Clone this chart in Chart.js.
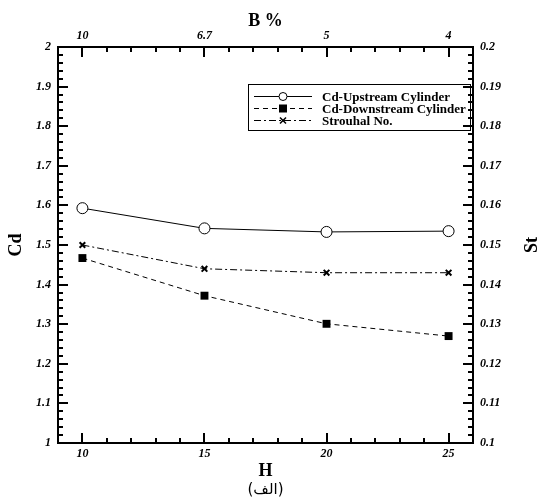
<!DOCTYPE html>
<html>
<head>
<meta charset="utf-8">
<script src="https://cdn.jsdelivr.net/npm/chart.js@4.4.1/dist/chart.umd.min.js"></script>
<style>
html,body{margin:0;padding:0;background:#fff}
</style>
</head>
<body>
<canvas id="myChart" width="545" height="503"></canvas>
<script>
// 데이터
const hValues = [10, 15, 20, 25];
const bPercentLabels = ['10', '6.7', '5', '4'];
const cdUpstream = [1.593, 1.542, 1.533, 1.535];
const cdDownstream = [1.467, 1.372, 1.301, 1.270];
const strouhal = [0.150, 0.144, 0.143, 0.143];
const seriesNames = ['Cd-Upstream Cylinder', 'Cd-Downstream Cylinder', 'Strouhal No.'];

const serif = '"Liberation Serif", "DejaVu Serif", serif';
const tickFont = { family: serif, size: 12, weight: 'bold', style: 'italic' };

function pts(ys) { return hValues.map((h, i) => ({ x: h, y: ys[i] })); }

const majorOnly = s => { s.ticks = hValues.map(v => ({ value: v })); };

// 안쪽 눈금 + 제목 + 범례
const frameDeco = {
  id: 'frameDeco',
  afterDraw(chart) {
    const c = chart.ctx, a = chart.chartArea, sc = chart.scales;
    c.save();
    c.strokeStyle = '#000';
    c.lineWidth = 2;
    c.beginPath();
    // x 눈금 (아래/위)
    for (let v = 9; v <= 26; v++) {
      const len = hValues.includes(v) ? 10 : 5;
      const px = Math.round(sc.x.getPixelForValue(v));
      c.moveTo(px, a.bottom); c.lineTo(px, a.bottom - len);
      c.moveTo(px, a.top); c.lineTo(px, a.top + len);
    }
    // y 눈금 (왼쪽/오른쪽)
    for (let k = 0; k <= 50; k++) {
      const v = 1 + k * 0.02;
      const len = k % 5 === 0 ? 10 : 5;
      const py = Math.round(sc.y.getPixelForValue(v));
      c.moveTo(a.left, py); c.lineTo(a.left + len, py);
      c.moveTo(a.right, py); c.lineTo(a.right - len, py);
    }
    c.stroke();

    // 축 제목
    c.fillStyle = '#000';
    c.textAlign = 'center';
    c.textBaseline = 'middle';
    c.font = 'bold 18px ' + serif;
    const cx = (a.left + a.right) / 2;
    c.fillText('H', cx, 471);
    c.fillText('B %', cx, 21);
    c.save(); c.translate(16, (a.top + a.bottom) / 2); c.rotate(-Math.PI / 2); c.fillText('Cd', 0, 0); c.restore();
    c.save(); c.translate(532, (a.top + a.bottom) / 2); c.rotate(-Math.PI / 2); c.fillText('St', 0, 0); c.restore();
    c.font = '15px "DejaVu Sans", sans-serif';
    c.fillText('(الف)', cx, 490);

    // 범례
    const bx = 248, by = 84, bw = 222, bh = 46;
    c.lineWidth = 1;
    c.strokeRect(bx + 0.5, by + 0.5, bw, bh);
    c.font = 'bold 13px ' + serif;
    c.textAlign = 'left';
    chart.data.datasets.forEach((ds, i) => {
      const ry = by + 12.5 + i * 12;
      c.setLineDash(ds.borderDash || []);
      c.beginPath(); c.moveTo(254, ry); c.lineTo(312, ry); c.stroke();
      c.setLineDash([]);
      const mx = 283;
      if (ds.pointStyle === 'circle') {
        c.beginPath(); c.arc(mx, ry, 4, 0, Math.PI * 2);
        c.fillStyle = '#fff'; c.fill(); c.stroke();
      } else if (ds.pointStyle === 'rect') {
        c.fillStyle = '#000'; c.fillRect(mx - 4, ry - 4, 8, 8);
      } else {
        c.lineWidth = 1.5;
        c.beginPath(); c.moveTo(mx - 3, ry - 3); c.lineTo(mx + 3, ry + 3);
        c.moveTo(mx + 3, ry - 3); c.lineTo(mx - 3, ry + 3); c.stroke();
        c.lineWidth = 1;
      }
      c.fillStyle = '#000';
      c.fillText(ds.label, 322, ry + 1);
    });
    c.restore();
  }
};

const ctx = document.getElementById('myChart');
new Chart(ctx, {
  type: 'line',
  data: {
    datasets: [
      {
        label: seriesNames[0], data: pts(cdUpstream), yAxisID: 'y',
        borderColor: '#000', borderWidth: 1, pointStyle: 'circle', pointRadius: 5.5,
        pointBackgroundColor: '#fff', pointBorderColor: '#000', pointBorderWidth: 1
      },
      {
        label: seriesNames[1], data: pts(cdDownstream), yAxisID: 'y',
        borderColor: '#000', borderWidth: 1, borderDash: [5, 4], pointStyle: 'rect', pointRadius: 5.6,
        pointBackgroundColor: '#000', pointBorderColor: '#000', pointBorderWidth: 0
      },
      {
        label: seriesNames[2], data: pts(strouhal), yAxisID: 'y2',
        borderColor: '#000', borderWidth: 1, borderDash: [7, 3, 2, 3], pointStyle: 'crossRot', pointRadius: 4,
        pointBorderColor: '#000', pointBorderWidth: 2
      }
    ]
  },
  options: {
    responsive: false,
    animation: false,
    layout: { padding: 0 },
    plugins: { legend: { display: false }, tooltip: { enabled: false } },
    scales: {
      x: {
        type: 'linear', position: 'bottom', min: 9, max: 26,
        afterBuildTicks: majorOnly,
        afterFit: s => { s.height = 60; },
        grid: { display: false, drawTicks: false },
        border: { display: true, width: 2, color: '#000' },
        ticks: { font: tickFont, color: '#000', padding: 4, maxRotation: 0 }
      },
      x2: {
        type: 'linear', position: 'top', min: 9, max: 26,
        afterBuildTicks: majorOnly,
        afterFit: s => { s.height = 47; },
        grid: { display: false, drawTicks: false },
        border: { display: true, width: 2, color: '#000' },
        ticks: { font: tickFont, color: '#000', padding: 4, maxRotation: 0,
          callback: v => bPercentLabels[hValues.indexOf(v)] }
      },
      y: {
        position: 'left', min: 1, max: 2,
        afterFit: s => { s.width = 58; },
        grid: { display: false, drawTicks: false },
        border: { display: true, width: 2, color: '#000' },
        ticks: { stepSize: 0.1, font: tickFont, color: '#000', padding: 7,
          callback: v => String(+v.toFixed(1)) }
      },
      y2: {
        position: 'right', min: 0.1, max: 0.2,
        afterFit: s => { s.width = 72; },
        grid: { display: false, drawTicks: false },
        border: { display: true, width: 2, color: '#000' },
        ticks: { stepSize: 0.01, font: tickFont, color: '#000', padding: 7,
          callback: v => String(+v.toFixed(2)) }
      }
    }
  },
  plugins: [frameDeco]
});
</script>
</body>
</html>
